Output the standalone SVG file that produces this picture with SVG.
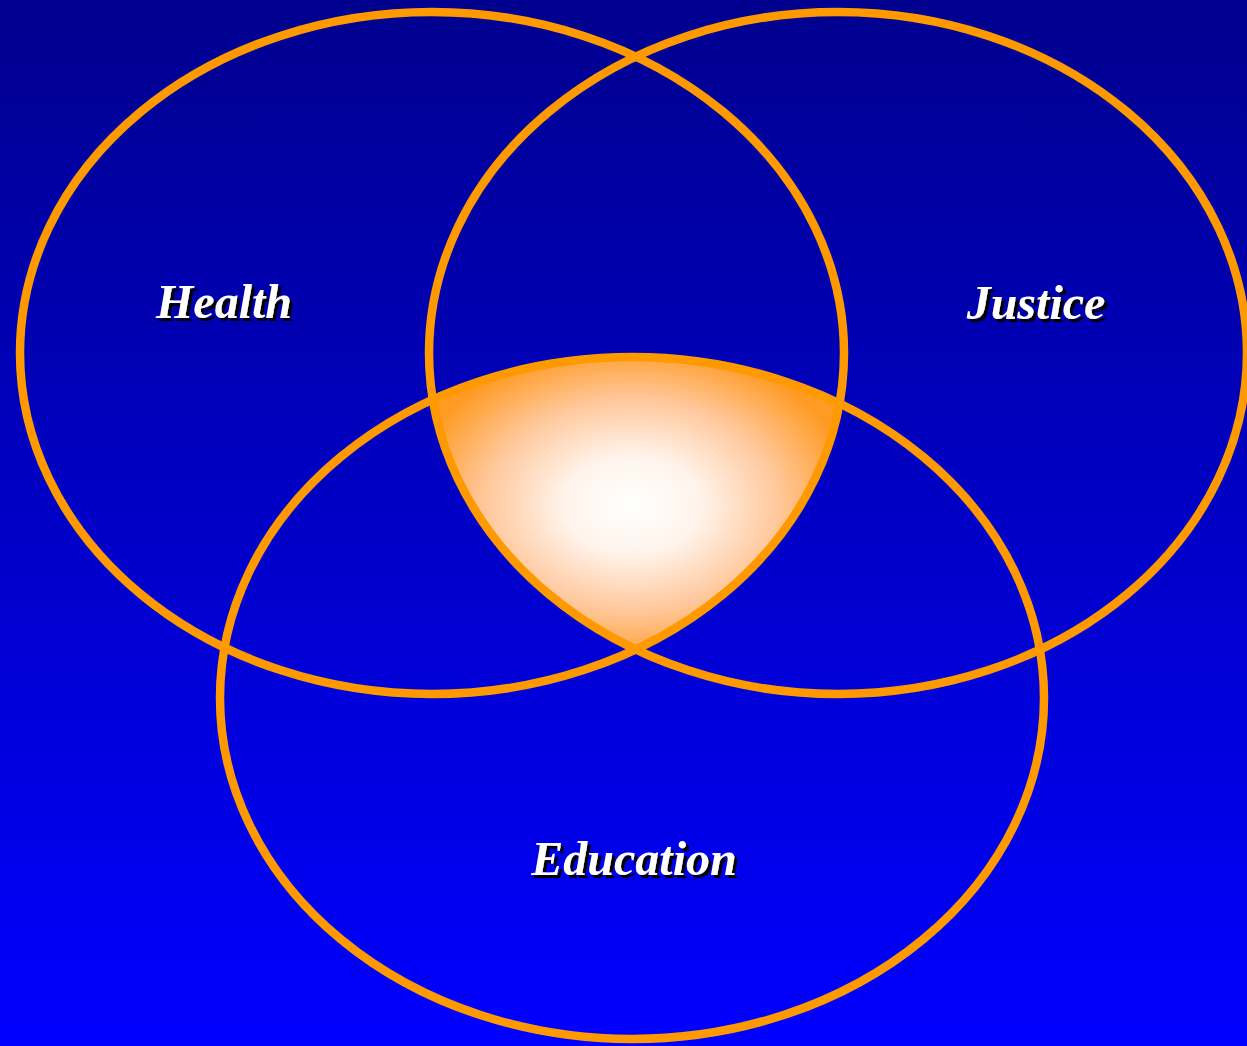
<svg xmlns="http://www.w3.org/2000/svg" width="1247" height="1046" viewBox="0 0 1247 1046">
<defs>
<linearGradient id="bg" x1="0" y1="0" x2="0" y2="1">
<stop offset="0" stop-color="#00008E"/>
<stop offset="1" stop-color="#0000FF"/>
</linearGradient>
<radialGradient id="core" gradientUnits="userSpaceOnUse" cx="632" cy="505" r="225" gradientTransform="translate(632 505) scale(1 0.72) translate(-632 -505)">
<stop offset="0" stop-color="#FFFFFF"/>
<stop offset="0.3" stop-color="#FFF4EC"/>
<stop offset="0.65" stop-color="#FFC89C"/>
<stop offset="1" stop-color="#FF9A22"/>
</radialGradient>
<clipPath id="cH"><ellipse cx="432" cy="353" rx="412" ry="341"/></clipPath>
<clipPath id="cJ"><ellipse cx="838" cy="353" rx="409" ry="341"/></clipPath>
<filter id="shadow" x="-10%" y="-20%" width="130%" height="150%">
<feDropShadow dx="3" dy="3" stdDeviation="0" flood-color="#000000" flood-opacity="1"/>
</filter>
</defs>
<style>
.ring{fill:none;stroke:#FF9900;stroke-width:8.5}
.lbl{font-family:"Liberation Serif","Times New Roman",serif;font-weight:bold;font-style:italic;font-size:48px;text-anchor:middle;fill:#FFFFFF;filter:url(#shadow)}
</style>
<rect width="1247" height="1046" fill="url(#bg)"/>
<g id="core-overlap">
<g clip-path="url(#cH)"><g clip-path="url(#cJ)">
<ellipse cx="632" cy="698" rx="412" ry="341" fill="url(#core)" stroke="#FF9900" stroke-width="6"/>
</g></g>
</g>
<g id="health">
<ellipse class="ring" cx="432" cy="353" rx="412" ry="341"/>
<text class="lbl" x="224" y="318">Health</text>
</g>
<g id="justice">
<ellipse class="ring" cx="838" cy="353" rx="409" ry="341"/>
<text class="lbl" x="1036" y="319">Justice</text>
</g>
<g id="education">
<ellipse class="ring" cx="632" cy="698" rx="412" ry="341"/>
<text class="lbl" x="634" y="875">Education</text>
</g>
<g id="connectors"/>
</svg>
